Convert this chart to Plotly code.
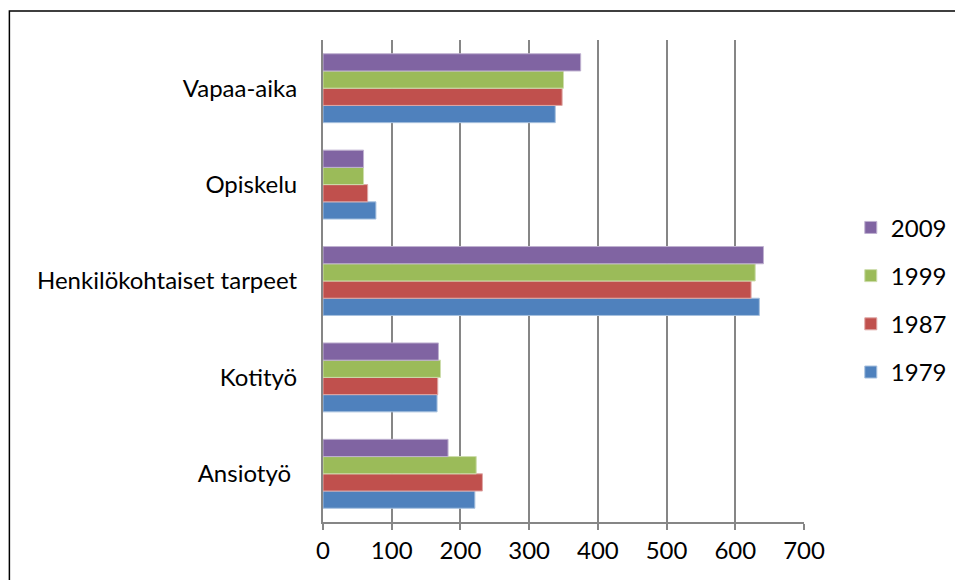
import plotly.graph_objects as go

categories = ["Ansiotyö ", "Kotityö", "Henkilökohtaiset tarpeet", "Opiskelu", "Vapaa-aika"]
years = ["1979", "1987", "1999", "2009"]
v1979 = [221, 166, 635, 77, 338]
v1987 = [232, 167, 623, 65, 348]
v1999 = [223, 171, 629, 59, 350]
v2009 = [182, 168, 641, 59, 375]
colors = ["#4F81BD", "#C0504D", "#9BBB59", "#8064A2"]
edges = ["#A7C0DE", "#DFA8A6", "#CDDDAC", "#BFB1D0"]

series = [v1979, v1987, v1999, v2009]

fig = go.Figure()
for i, (year, vals, col, edge) in enumerate(zip(years, series, colors, edges)):
    fig.add_trace(go.Bar(
        y=categories,
        x=vals,
        name=year,
        orientation="h",
        legendgroup=year,
        legendrank=10 - i,
        marker=dict(color=col, line=dict(color=edge, width=1)),
    ))

font = dict(family="Lato, Open Sans, sans-serif", size=24, color="black")

# page body adds 8px margin, so figure is slightly smaller than the window
fig.update_layout(
    barmode="group",
    bargap=0.285,
    bargroupgap=0,
    width=955,
    height=572,
    margin=dict(l=315, r=158, t=32, b=58),
    paper_bgcolor="white",
    plot_bgcolor="white",
    font=font,
    showlegend=True,
    legend=dict(
        traceorder="grouped",
        tracegroupgap=14,
        x=1.095,
        y=0.657,
        xanchor="left",
        yanchor="top",
        font=font,
        bgcolor="rgba(0,0,0,0)",
    ),
)

fig.update_xaxes(
    range=[0, 700],
    dtick=100,
    showgrid=True,
    gridcolor="#868686",
    gridwidth=2,
    showline=True,
    linecolor="#868686",
    linewidth=2,
    ticks="outside",
    ticklen=6,
    tickwidth=2,
    tickcolor="#868686",
    zeroline=False,
    tickfont=font,
)
fig.update_yaxes(
    showgrid=False,
    showline=True,
    linecolor="#868686",
    linewidth=2,
    ticks="",
    ticklabelstandoff=19,
    tickfont=font,
)

# outer chart border
fig.add_shape(
    type="rect", xref="paper", yref="paper",
    x0=-0.652, x1=1.6, y0=-0.5, y1=1.06,
    line=dict(color="black", width=1.5),
)

fig.write_html("out.html")
